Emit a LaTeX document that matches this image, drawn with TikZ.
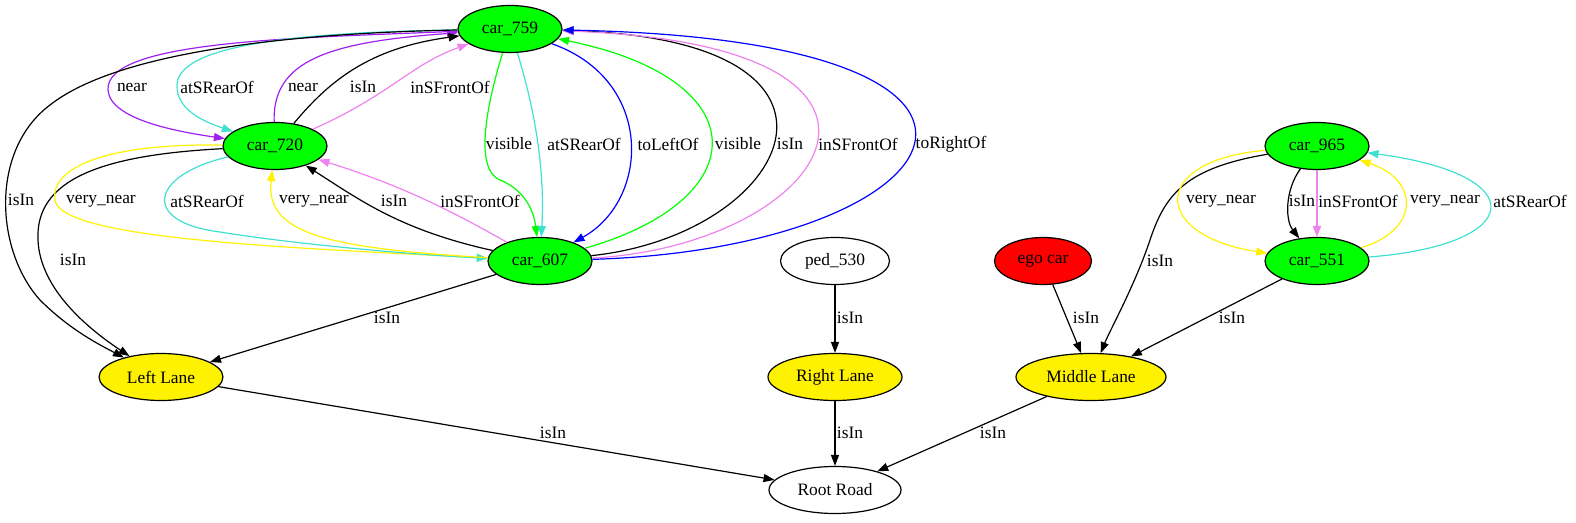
\documentclass[tikz,border=0pt]{standalone}
\usepackage{fontspec}
\setmainfont{Liberation Serif}
\usetikzlibrary{shapes.geometric,arrows.meta}
\definecolor{gvpurple}{HTML}{A020F0}
\definecolor{gvturq}{HTML}{40E0D0}
\definecolor{gvviolet}{HTML}{EE82EE}
\begin{document}
\begin{tikzpicture}[x=0.5pt,y=-0.5pt,font=\fontsize{8.7}{10}\selectfont,
	obj/.style={ellipse,draw,line width=0.6pt,inner sep=0pt,minimum height=23.5pt},
	car/.style={obj,fill=green,minimum width=52pt},
	lane/.style={obj,fill=yellow},
	e/.style={line width=0.6pt,text=black,-{Triangle[length=5.5pt,width=4pt]}}]
	\useasboundingbox (0,0) rectangle (1576,523);
	\foreach \n/\x/\y in {759/510/29,720/275/146,607/540/261,965/1317/146,551/1317/261}
		\node[car] (c\n) at (\x,\y) {car\_\n};
	\node[obj,minimum width=54.5pt] (ped) at (835,261) {ped\_530};
	\node[obj,fill=red,minimum width=48.5pt] (ego) at (1043,261) {ego car};
	\node[lane,minimum width=62pt] (ll) at (161,377) {Left Lane};
	\node[lane,minimum width=67pt] (rl) at (835,377) {Right Lane};
	\node[lane,minimum width=75pt] (ml) at (1091,377) {Middle Lane};
	\node[obj,minimum width=66pt] (rr) at (835,490) {Root Road};
	\draw[e,draw=gvpurple] (c759) .. controls (300,38) and (105,40) .. (108,90) .. controls (110,120) and (180,132) .. (c720) node at (132,87) {near};
	\draw[e,draw=gvturq] (c759) .. controls (330,32) and (178,40) .. (177,85) .. controls (176,110) and (205,122) .. (c720) node at (217,87) {atSRearOf};
	\draw[e,draw=gvpurple] (c720) .. controls (272,60) and (330,42) .. (c759) node at (303,87) {near};
	\draw[e] (c720) .. controls (330,80) and (370,48) .. (c759) node at (363,87) {isIn};
	\draw[e,draw=gvviolet] (c720) .. controls (390,95) and (410,65) .. (c759) node at (450,87) {inSFrontOf};
	\draw[e] (c759) .. controls (300,33) and (120,50) .. (50,105) .. controls (-10,150) and (-5,250) .. (40,300) .. controls (70,330) and (100,345) .. (ll) node at (21,200) {isIn};
	\draw[e,draw=green] (c759) .. controls (485,110) and (475,170) .. (500,180) .. controls (520,188) and (533,205) .. (c607) node at (509,144) {visible};
	\draw[e,draw=gvturq] (c759) .. controls (535,110) and (545,170) .. (c607) node at (584,144) {atSRearOf};
	\draw[e,draw=blue] (c759) .. controls (655,80) and (650,200) .. (c607) node at (668,144) {toLeftOf};
	\draw[e,draw=green] (c607) .. controls (755,200) and (760,80) .. (c759) node at (738,144) {visible};
	\draw[e] (c607) .. controls (790,235) and (890,40) .. (c759) node at (790,144) {isIn};
	\draw[e,draw=gvviolet] (c607) .. controls (830,245) and (960,45) .. (c759) node at (858,144) {inSFrontOf};
	\draw[e,draw=blue] (c607) .. controls (960,248) and (1090,40) .. (c759) node at (951,144) {toRightOf};
	\draw[e] (c720) .. controls (100,155) and (35,180) .. (38,240) .. controls (40,290) and (90,330) .. (ll) node at (73,260) {isIn};
	\draw[e,draw=yellow] (c720) .. controls (100,143) and (50,170) .. (55,200) .. controls (60,240) and (300,248) .. (c607) node at (101,201) {very\_near};
	\draw[e,draw=gvturq] (c720) .. controls (150,175) and (140,222) .. (220,232) .. controls (300,245) and (420,255) .. (c607) node at (207,201) {atSRearOf};
	\draw[e,draw=yellow] (c607) .. controls (330,248) and (265,235) .. (c720) node at (314,201) {very\_near};
	\draw[e] (c607) .. controls (400,230) and (360,200) .. (c720) node at (394,201) {isIn};
	\draw[e,draw=gvviolet] (c607) .. controls (450,210) and (400,185) .. (c720) node at (480,201) {inSFrontOf};
	\foreach \a/\b/\lx/\ly in {c607/ll/387/318,ll/rr/553/433,ped/rl/850/318,rl/rr/850/433,ml/rr/993/433,ego/ml/1086/318,c551/ml/1232/318}
		\draw[e] (\a) -- (\b) node at (\lx,\ly) {isIn};
	\draw[e] (c965) .. controls (1185,168) and (1165,195) .. (1150,240) .. controls (1135,285) and (1110,330) .. (ml) node at (1160,261) {isIn};
	\draw[e,draw=yellow] (c965) .. controls (1150,160) and (1150,235) .. (c551) node at (1221,201) {very\_near};
	\draw[e] (c965) .. controls (1285,190) and (1285,220) .. (c551) node at (1302,201) {isIn};
	\draw[e,draw=gvviolet,line width=1.1pt] (c965) -- (c551) node at (1358,201) {inSFrontOf};
	\draw[e,draw=yellow] (c551) .. controls (1420,230) and (1420,180) .. (c965) node at (1445,201) {very\_near};
	\draw[e,draw=gvturq] (c551) .. controls (1525,245) and (1535,175) .. (c965) node at (1530,201) {atSRearOf};
\end{tikzpicture}
\end{document}
